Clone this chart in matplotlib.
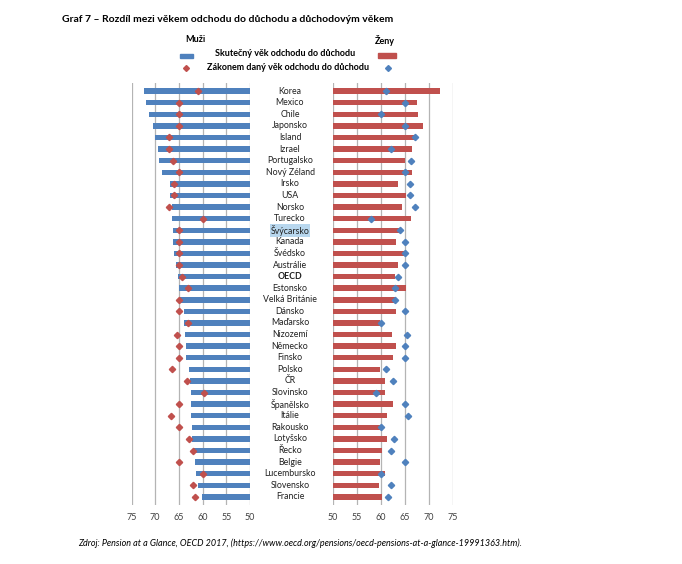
import matplotlib
matplotlib.use('Agg')
import matplotlib.pyplot as plt
from matplotlib.transforms import blended_transform_factory

countries = ['Korea', 'Mexico', 'Chile', 'Japonsko', 'Island', 'Izrael', 'Portugalsko',
             'Nový Zéland', 'Irsko', 'USA', 'Norsko', 'Turecko', 'Švýcarsko', 'Kanada',
             'Švédsko', 'Austrálie', 'OECD', 'Estonsko', 'Velká Británie', 'Dánsko',
             'Maďarsko', 'Nizozemí', 'Německo', 'Finsko', 'Polsko', 'ČR', 'Slovinsko',
             'Španělsko', 'Itálie', 'Rakousko', 'Lotyšsko', 'Řecko', 'Belgie',
             'Lucembursko', 'Slovensko', 'Francie']

# men: effective / statutory retirement age
men_eff = [72.3, 71.9, 71.4, 70.4, 70.0, 69.5, 69.3, 68.6, 66.9, 66.9, 66.4, 66.4, 66.3,
           66.2, 66.0, 65.6, 65.1, 65.0, 64.9, 63.9, 63.9, 63.7, 63.5, 63.4, 62.9, 62.7,
           62.4, 62.4, 62.4, 62.2, 62.2, 61.8, 61.5, 61.3, 60.9, 60.2]
men_stat = [61.0, 65.0, 65.0, 65.0, 67.0, 67.0, 66.3, 65.0, 66.0, 66.0, 67.0, 60.0, 65.0,
            65.0, 65.0, 65.0, 64.3, 63.0, 65.0, 65.0, 63.0, 65.5, 65.0, 65.0, 66.5, 63.2,
            59.7, 65.0, 66.6, 65.0, 62.8, 62.0, 65.0, 60.0, 62.0, 61.6]

# women: effective / statutory retirement age
women_eff = [72.2, 67.4, 67.7, 68.7, 67.2, 66.5, 64.9, 66.4, 63.5, 65.3, 64.4, 66.2, 64.0,
             63.1, 64.7, 63.6, 62.9, 65.3, 63.1, 63.1, 59.7, 62.3, 63.1, 62.6, 59.8, 60.8,
             60.8, 62.6, 61.3, 60.5, 61.2, 60.2, 59.8, 60.9, 59.5, 60.3]
women_stat = [61.0, 65.0, 60.0, 65.0, 67.0, 62.0, 66.2, 65.0, 66.0, 66.0, 67.0, 58.0, 64.0,
              65.0, 65.0, 65.0, 63.5, 63.0, 63.0, 65.0, 60.0, 65.5, 65.0, 65.0, 61.0, 62.4,
              59.0, 65.0, 65.6, 60.0, 62.8, 62.0, 65.0, 60.0, 62.0, 61.5]

ticks = [75, 70, 65, 60, 55, 50]

blue = '#4F81BD'
red = '#C0504D'
grid_col = '#B4B4B4'

plt.rcParams['font.family'] = ['Lato', 'DejaVu Sans']

W, H = 682, 564
fig = plt.figure(figsize=(W / 100, H / 100), dpi=100)


def px_axes(x0, x1, y0, y1):
    return fig.add_axes([x0 / W, 1 - y1 / H, (x1 - x0) / W, (y1 - y0) / H])


n = len(countries)
ypos = list(range(n))

axL = px_axes(131.5, 250, 83, 505)
axR = px_axes(333, 453, 83, 505)

axL.barh(ypos, [v - 50 for v in men_eff], left=50, height=0.47, color=blue, zorder=2)
axL.plot(men_stat, ypos, 'D', color=red, markersize=3.2, zorder=3)
axL.set_xlim(75, 50)

axR.barh(ypos, [v - 50 for v in women_eff], left=50, height=0.47, color=red, zorder=2)
axR.plot(women_stat, ypos, 'D', color=blue, markersize=3.2, zorder=3)
axR.set_xlim(50, 75)

for ax in (axL, axR):
    ax.set_ylim(n - 0.3, -0.7)
    ax.set_xticks(ticks)
    ax.set_yticks([])
    for s in ax.spines.values():
        s.set_visible(False)
    ax.grid(axis='x', color=grid_col, lw=0.9, zorder=0)
    ax.tick_params(axis='x', length=0, labelsize=6.5, pad=6, colors='#404040')

trans = blended_transform_factory(fig.transFigure, axL.transData)
for i, name in enumerate(countries):
    kw = dict(ha='center', va='center', fontsize=6.3, color='#202020', transform=trans)
    if name == 'OECD':
        kw['fontweight'] = 'bold'
    if name == 'Švýcarsko':
        kw['bbox'] = dict(boxstyle='square,pad=0.1', fc='#B8D7EE', ec='none')
    axL.text(290 / W, i, name, **kw)

# title
fig.text(62 / W, 1 - 20 / H, 'Graf 7 – Rozdíl mezi věkem odchodu do důchodu a důchodovým věkem',
         fontsize=7.5, fontweight='bold', va='center', ha='left')

# legend
fig.text(195 / W, 1 - 40 / H, 'Muži', fontsize=6.5, fontweight='bold', ha='center', va='center')
fig.text(385 / W, 1 - 40 / H, 'Ženy', fontsize=6.5, fontweight='bold', ha='center', va='center')
fig.text(285 / W, 1 - 54 / H, 'Skutečný věk odchodu do důchodu', fontsize=6.5,
         fontweight='bold', ha='center', va='center')
fig.text(288 / W, 1 - 68 / H, 'Zákonem daný věk odchodu do důchodu', fontsize=6.5,
         fontweight='bold', ha='center', va='center')
fig.patches.append(plt.Rectangle((180 / W, 1 - 58 / H), 13 / W, 4 / H, color=blue,
                                 transform=fig.transFigure, figure=fig))
fig.patches.append(plt.Rectangle((378 / W, 1 - 58 / H), 18 / W, 5 / H, color=red,
                                 transform=fig.transFigure, figure=fig))
fig.lines.append(plt.Line2D([186 / W], [1 - 68 / H], marker='D', color=red, markersize=3,
                            transform=fig.transFigure, figure=fig))
fig.lines.append(plt.Line2D([388 / W], [1 - 68 / H], marker='D', color=blue, markersize=3,
                            transform=fig.transFigure, figure=fig))

# source
fig.text(78 / W, 1 - 543 / H,
         'Zdroj: Pension at a Glance, OECD 2017, '
         '(https://www.oecd.org/pensions/oecd-pensions-at-a-glance-19991363.htm).',
         fontsize=6.5, style='italic', ha='left', va='center')

fig.savefig('out.png', dpi=100)
